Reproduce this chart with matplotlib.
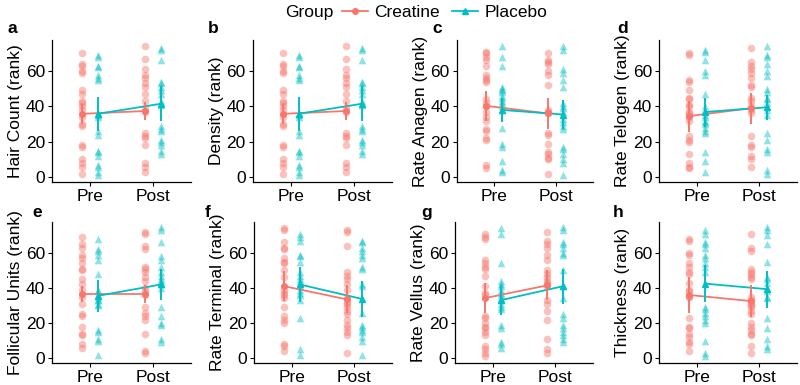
import matplotlib
matplotlib.use("Agg")
import matplotlib.pyplot as plt
from matplotlib.lines import Line2D

plt.rcParams['font.family'] = ['Liberation Sans', 'DejaVu Sans']

CREA_COLOR = '#F8766D'
PLAC_COLOR = '#00BFC4'
DODGE = 0.125
FS = 12.5
times = ['Pre', 'Post']
groups = ['Creatine', 'Placebo']

# a - hair count
hair_crea_pre = [70, 64, 63, 60, 59, 49, 47, 43, 42, 40, 38, 34, 30, 29, 18, 17, 10, 8, 6, 2]
hair_crea_post = [74, 67, 61, 58, 56, 53, 51, 47, 43, 39, 37, 25, 23, 22, 18, 8, 6, 3]
hair_plac_pre = [69, 68, 63, 62, 58, 56, 55, 36, 35, 34, 26, 24, 15, 14, 12, 7, 6, 3, 1]
hair_plac_post = [73, 72, 66, 54, 53, 51, 49, 47, 43, 41, 29, 27, 26, 21, 20, 18, 15, 13]
hair_mean = [35.8, 37.4, 35.8, 41.5]   # crea pre, crea post, plac pre, plac post
hair_err = [5.5, 5.0, 9.5, 10.0]

# b - density
dens_crea_pre = [70, 64, 63, 60, 59, 49, 47, 43, 42, 40, 38, 34, 30, 29, 18, 17, 10, 8, 6, 2]
dens_crea_post = [74, 67, 61, 58, 56, 53, 51, 47, 43, 39, 37, 25, 23, 22, 18, 8, 6, 3]
dens_plac_pre = [69, 68, 63, 62, 58, 56, 55, 36, 35, 34, 26, 24, 15, 14, 12, 7, 6, 3, 1]
dens_plac_post = [73, 72, 66, 54, 53, 51, 49, 47, 43, 41, 29, 27, 26, 21, 20, 18, 15, 13]
dens_mean = [35.8, 37.4, 35.8, 41.5]
dens_err = [5.5, 5.0, 9.5, 10.0]

# c - rate anagen
anag_crea_pre = [71, 70, 68, 66, 63, 58, 56, 55, 54, 44, 42, 40, 37, 34, 32, 27, 26, 22, 21, 7, 5]
anag_crea_post = [70, 66, 65, 64, 60, 58, 52, 38, 37, 36, 25, 24, 19, 14, 13, 11, 10, 2]
anag_plac_pre = [74, 68, 63, 51, 50, 49, 48, 46, 45, 43, 42, 40, 38, 28, 19, 17, 9, 4, 3]
anag_plac_post = [74, 72, 61, 59, 55, 51, 42, 40, 39, 37, 33, 31, 29, 27, 17, 16, 13, 10, 8, 1]
anag_mean = [40.3, 36.0, 38.0, 35.4]
anag_err = [8.5, 8.7, 7.0, 8.0]

# d - rate telogen
telo_crea_pre = [70, 69, 55, 54, 49, 45, 44, 41, 40, 37, 36, 34, 32, 23, 21, 20, 13, 8, 6, 5]
telo_crea_post = [73, 65, 63, 61, 59, 56, 52, 51, 45, 43, 40, 38, 36, 23, 18, 17, 12, 10, 6]
telo_plac_pre = [72, 71, 66, 60, 58, 47, 40, 38, 35, 34, 32, 31, 30, 28, 26, 25, 14, 9, 3]
telo_plac_post = [74, 69, 68, 64, 60, 57, 50, 48, 45, 44, 42, 38, 35, 25, 21, 16, 14, 4, 2]
telo_mean = [34.5, 39.0, 36.8, 39.5]
telo_err = [8.8, 8.7, 8.2, 7.0]

# e - follicular units
foll_crea_pre = [69, 65, 63, 59, 57, 54, 51, 50, 45, 42, 39, 35, 31, 25, 24, 18, 14, 13, 8, 6]
foll_crea_post = [72, 71, 64, 62, 52, 51, 49, 46, 44, 40, 38, 36, 29, 26, 24, 22, 14, 4, 3]
foll_plac_pre = [68, 62, 61, 59, 56, 48, 39, 38, 36, 34, 33, 33, 31, 30, 16, 15, 11, 10, 2]
foll_plac_post = [75, 73, 66, 58, 56, 52, 49, 47, 45, 44, 42, 40, 29, 24, 20, 19, 11, 9]
foll_mean = [36.5, 36.5, 35.5, 42.0]
foll_err = [4.5, 5.0, 9.0, 9.0]

# f - rate terminal
term_crea_pre = [74, 73, 66, 63, 62, 57, 55, 54, 50, 46, 39, 37, 36, 34, 29, 24, 22, 20, 8, 7, 4]
term_crea_post = [73, 72, 64, 49, 47, 45, 42, 39, 34, 32, 31, 29, 27, 25, 22, 19, 17, 15, 13, 3]
term_plac_pre = [71, 69, 67, 59, 58, 55, 49, 47, 45, 44, 42, 41, 39, 37, 36, 33, 23, 5, 2]
term_plac_post = [67, 66, 63, 61, 59, 57, 52, 51, 42, 41, 26, 19, 18, 16, 15, 12, 10, 2]
term_mean = [41.0, 33.5, 42.0, 33.7]
term_err = [8.5, 8.0, 10.0, 10.5]

# g - rate vellus
vell_crea_pre = [71, 69, 68, 56, 54, 52, 51, 47, 41, 37, 36, 24, 23, 20, 18, 17, 15, 13, 7, 5, 3, 1]
vell_crea_post = [72, 67, 65, 63, 59, 56, 50, 48, 46, 44, 43, 41, 33, 31, 27, 22, 11, 5, 3]
vell_plac_pre = [74, 71, 54, 44, 42, 41, 39, 37, 36, 34, 33, 31, 29, 28, 19, 17, 9, 8, 6]
vell_plac_post = [75, 73, 66, 65, 63, 60, 59, 50, 41, 34, 25, 23, 19, 17, 15, 13, 11, 9]
vell_mean = [34.2, 41.5, 33.0, 41.0]
vell_err = [8.5, 8.5, 8.5, 10.0]

# h - thickness
thick_crea_pre = [68, 67, 60, 59, 54, 52, 49, 48, 43, 39, 38, 35, 35, 23, 18, 17, 14, 12, 9, 8, 4]
thick_crea_post = [71, 63, 61, 51, 49, 48, 46, 45, 35, 33, 31, 30, 29, 27, 25, 20, 18, 16, 14, 13, 7, 3]
thick_plac_pre = [73, 71, 66, 65, 63, 59, 57, 54, 52, 49, 29, 28, 26, 24, 22, 20, 10, 3, 1]
thick_plac_post = [75, 73, 70, 65, 55, 46, 45, 43, 40, 38, 35, 34, 23, 17, 11, 7, 5]
thick_mean = [36.0, 32.5, 42.5, 39.3]
thick_err = [10.0, 9.0, 10.5, 10.5]

panels = [
    ('a', 'Hair Count (rank)', hair_crea_pre, hair_crea_post, hair_plac_pre, hair_plac_post, hair_mean, hair_err),
    ('b', 'Density (rank)', dens_crea_pre, dens_crea_post, dens_plac_pre, dens_plac_post, dens_mean, dens_err),
    ('c', 'Rate Anagen (rank)', anag_crea_pre, anag_crea_post, anag_plac_pre, anag_plac_post, anag_mean, anag_err),
    ('d', 'Rate Telogen (rank)', telo_crea_pre, telo_crea_post, telo_plac_pre, telo_plac_post, telo_mean, telo_err),
    ('e', 'Follicular Units (rank)', foll_crea_pre, foll_crea_post, foll_plac_pre, foll_plac_post, foll_mean, foll_err),
    ('f', 'Rate Terminal (rank)', term_crea_pre, term_crea_post, term_plac_pre, term_plac_post, term_mean, term_err),
    ('g', 'Rate Vellus (rank)', vell_crea_pre, vell_crea_post, vell_plac_pre, vell_plac_post, vell_mean, vell_err),
    ('h', 'Thickness (rank)', thick_crea_pre, thick_crea_post, thick_plac_pre, thick_plac_post, thick_mean, thick_err),
]

# axes boxes [left, bottom, width, height] in figure fractions
boxes = [
    [0.065, 0.527, 0.174, 0.369], [0.316, 0.527, 0.174, 0.369],
    [0.571, 0.527, 0.170, 0.369], [0.824, 0.527, 0.172, 0.369],
    [0.065, 0.057, 0.174, 0.366], [0.318, 0.057, 0.172, 0.366],
    [0.569, 0.057, 0.172, 0.366], [0.824, 0.057, 0.172, 0.366],
]
label_pos = [(0.009, 0.927), (0.260, 0.927), (0.540, 0.927), (0.771, 0.927),
             (0.041, 0.447), (0.256, 0.447), (0.527, 0.447), (0.766, 0.447)]


def draw_panel(ax, crea_pre, crea_post, plac_pre, plac_post, means, errs, ylabel):
    series = [(crea_pre, crea_post, CREA_COLOR, 'o', -DODGE, means[0:2], errs[0:2]),
              (plac_pre, plac_post, PLAC_COLOR, '^', DODGE, means[2:4], errs[2:4])]
    for pre, post, color, marker, off, m, e in series:
        for i, vals in enumerate([pre, post]):
            ax.scatter([i + 1 + off] * len(vals), vals, s=30, color=color, marker=marker,
                       alpha=0.45, linewidths=0, zorder=2)
        xs = [1 + off, 2 + off]
        ax.plot(xs, m, color=color, lw=1.3, zorder=3)
        ax.errorbar(xs, m, yerr=e, fmt=marker, color=color, ms=4, elinewidth=1.4,
                    capsize=0, zorder=4)
    ax.set_xlim(0.4, 2.6)
    ax.set_ylim(-2.8, 77.5)
    ax.set_xticks([1, 2])
    ax.set_xticklabels(times)
    ax.set_yticks([0, 20, 40, 60])
    ax.set_ylabel(ylabel, fontsize=FS, labelpad=2)
    ax.tick_params(labelsize=FS, length=3, width=0.8, pad=2, colors='black')
    ax.spines['top'].set_visible(False)
    ax.spines['right'].set_visible(False)
    for s in ['left', 'bottom']:
        ax.spines[s].set_linewidth(0.9)


fig = plt.figure(figsize=(8, 3.85), dpi=100)
for p, box, lp in zip(panels, boxes, label_pos):
    ax = fig.add_axes(box)
    draw_panel(ax, p[2], p[3], p[4], p[5], p[6], p[7], p[1])
    fig.text(lp[0], lp[1], p[0], fontsize=FS, fontweight='bold', va='center', ha='left')

fig.text(0.357, 0.968, 'Group', fontsize=FS, va='center', ha='left')
handles = [Line2D([], [], color=CREA_COLOR, marker='o', ms=4, lw=1.3),
           Line2D([], [], color=PLAC_COLOR, marker='^', ms=4.5, lw=1.3)]
fig.legend(handles, groups, loc='center left', bbox_to_anchor=(0.428, 0.968), ncol=2,
           frameon=False, fontsize=FS, handlelength=1.5, handletextpad=0.35,
           columnspacing=0.7, borderaxespad=0, borderpad=0)

fig.savefig('out.png', dpi=100)
